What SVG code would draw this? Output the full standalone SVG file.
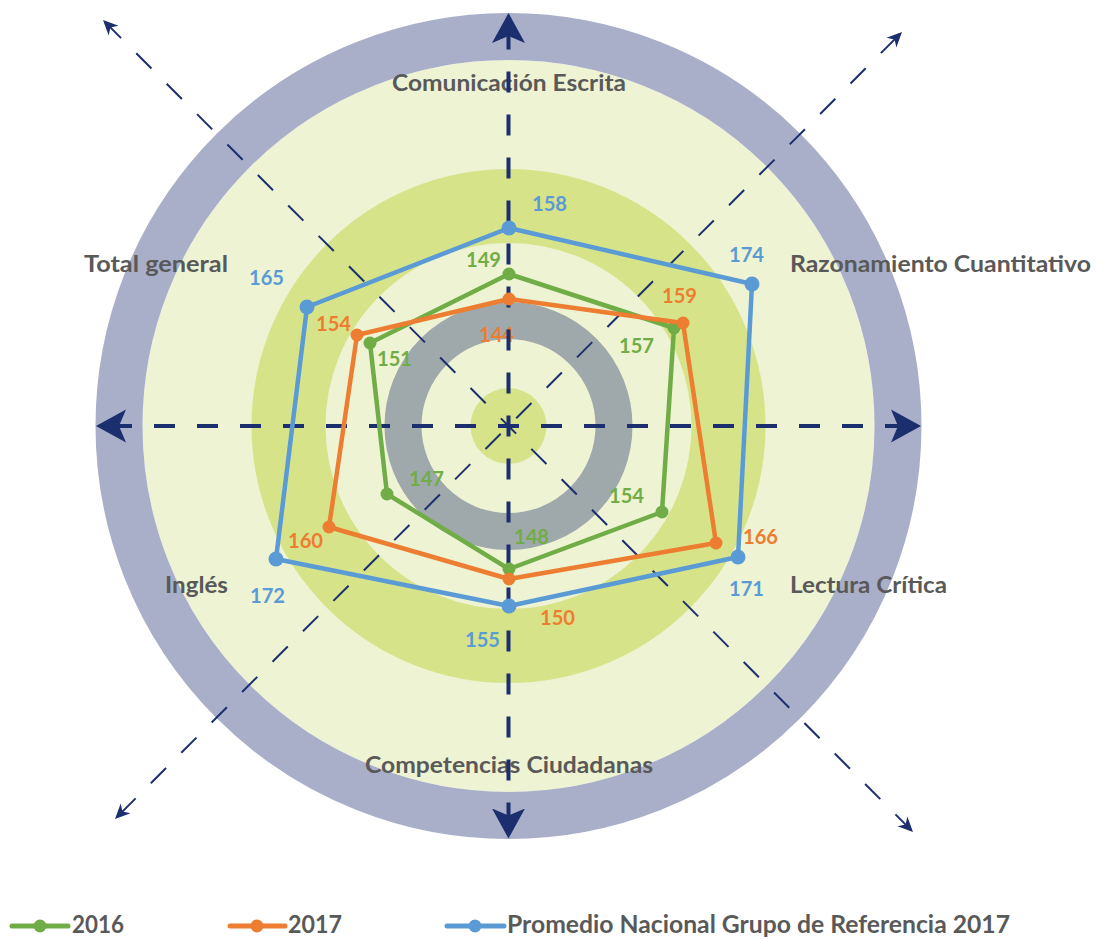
<svg xmlns="http://www.w3.org/2000/svg" width="1097" height="939" viewBox="0 0 1097 939">
<style>
.lbl{font-family:Lato,"Liberation Sans",sans-serif;font-weight:bold;font-size:23px;fill:#595959}
.num{font-family:Lato,"Liberation Sans",sans-serif;font-weight:bold;font-size:21px}
.leg{font-family:Lato,"Liberation Sans",sans-serif;font-weight:bold;font-size:24px;fill:#595959}
.ax{fill:none;stroke:#1B2F6E;stroke-width:4;stroke-dasharray:21 22;stroke-dashoffset:10.5;marker-end:url(#big)}
.dg{fill:none;stroke:#1B2F6E;stroke-width:2;stroke-dasharray:21.5 21.5;marker-end:url(#small)}
.ser{fill:none;stroke-width:4.5;stroke-linejoin:round}
.b{fill:#5B9BD5}.o{fill:#ED7D31}.g{fill:#70AD47}
</style>
<defs>
<marker id="big" markerUnits="userSpaceOnUse" markerWidth="32" markerHeight="34" viewBox="0 -17 32 34" refX="30" refY="0" orient="auto"><path d="M0,-16.5 L30,0 L0,16.5 L7,0 Z" fill="#1B2F6E"/></marker>
<marker id="small" markerUnits="userSpaceOnUse" markerWidth="16" markerHeight="16" viewBox="0 -8 16 16" refX="15" refY="0" orient="auto"><path d="M0,-7 L15,0 L0,7 L4.5,0 Z" fill="#1B2F6E"/></marker>
</defs>
<rect width="1097" height="939" fill="#FFFFFF"/>
<g id="background">
<circle cx="508.5" cy="426" r="366" fill="#EDF3D3"/>
<circle cx="508.5" cy="426" r="389.5" fill="none" stroke="#A9AFC8" stroke-width="47"/>
<circle cx="508.5" cy="426" r="220" fill="none" stroke="#D7E389" stroke-width="74"/>
<circle cx="508.5" cy="426" r="105.5" fill="none" stroke="#9FA9AB" stroke-width="37"/>
<circle cx="508.5" cy="426" r="38" fill="#D7E389"/>
</g>
<g id="axis-labels">
<text class="lbl" x="392" y="91" textLength="234" lengthAdjust="spacingAndGlyphs">Comunicación Escrita</text>
<text class="lbl" x="790" y="272" textLength="301" lengthAdjust="spacingAndGlyphs">Razonamiento Cuantitativo</text>
<text class="lbl" x="84" y="272" textLength="144" lengthAdjust="spacingAndGlyphs">Total general</text>
<text class="lbl" x="165" y="593" textLength="63" lengthAdjust="spacingAndGlyphs">Inglés</text>
<text class="lbl" x="790" y="593" textLength="157" lengthAdjust="spacingAndGlyphs">Lectura Crítica</text>
<text class="lbl" x="365" y="773" textLength="288" lengthAdjust="spacingAndGlyphs">Competencias Ciudadanas</text>
</g>
<g id="value-labels">
<text class="num b" x="532" y="211" textLength="35" lengthAdjust="spacingAndGlyphs">158</text>
<text class="num g" x="466" y="267" textLength="35" lengthAdjust="spacingAndGlyphs">149</text>
<text class="num o" x="479" y="342" textLength="35" lengthAdjust="spacingAndGlyphs">144</text>
<text class="num b" x="729" y="262" textLength="35" lengthAdjust="spacingAndGlyphs">174</text>
<text class="num o" x="662" y="303" textLength="35" lengthAdjust="spacingAndGlyphs">159</text>
<text class="num g" x="619" y="353" textLength="35" lengthAdjust="spacingAndGlyphs">157</text>
<text class="num b" x="249" y="285" textLength="35" lengthAdjust="spacingAndGlyphs">165</text>
<text class="num o" x="316" y="331" textLength="35" lengthAdjust="spacingAndGlyphs">154</text>
<text class="num g" x="377" y="366" textLength="35" lengthAdjust="spacingAndGlyphs">151</text>
<text class="num g" x="409" y="486" textLength="35" lengthAdjust="spacingAndGlyphs">147</text>
<text class="num o" x="288" y="548" textLength="35" lengthAdjust="spacingAndGlyphs">160</text>
<text class="num b" x="250" y="603" textLength="35" lengthAdjust="spacingAndGlyphs">172</text>
<text class="num b" x="465" y="647" textLength="35" lengthAdjust="spacingAndGlyphs">155</text>
<text class="num g" x="514" y="544" textLength="35" lengthAdjust="spacingAndGlyphs">148</text>
<text class="num o" x="540" y="625" textLength="35" lengthAdjust="spacingAndGlyphs">150</text>
<text class="num g" x="609" y="503" textLength="35" lengthAdjust="spacingAndGlyphs">154</text>
<text class="num o" x="743" y="544" textLength="35" lengthAdjust="spacingAndGlyphs">166</text>
<text class="num b" x="729" y="596" textLength="35" lengthAdjust="spacingAndGlyphs">171</text>
</g>
<g id="connectors">
<path class="ax" d="M508.5,426 L508.5,13"/>
<path class="ax" d="M508.5,426 L508.5,838.5"/>
<path class="ax" d="M508.5,426 L96,426"/>
<path class="ax" d="M508.5,426 L921,426"/>
<path class="dg" style="stroke-dashoffset:10.75" d="M508.5,426 L103,20"/>
<path class="dg" style="stroke-dashoffset:10.75" d="M508.5,426 L913,832"/>
<path class="dg" style="stroke-dashoffset:32" d="M508.5,426 L902,32"/>
<path class="dg" style="stroke-dashoffset:32" d="M508.5,426 L115,819"/>
</g>
<g id="series-2016">
<polygon class="ser" stroke="#70AD47" points="509,274 674,328 662,512 509,569 387,494 370,343"/>
<g class="g"><circle cx="509" cy="274" r="6.5"/><circle cx="674" cy="328" r="6.5"/><circle cx="662" cy="512" r="6.5"/><circle cx="509" cy="569" r="6.5"/><circle cx="387" cy="494" r="6.5"/><circle cx="370" cy="343" r="6.5"/></g>
</g>
<g id="series-2017">
<polygon class="ser" stroke="#ED7D31" points="509,299 683,323 716,543 509,579 329,527 357,335"/>
<g class="o"><circle cx="509" cy="299" r="6.5"/><circle cx="683" cy="323" r="6.5"/><circle cx="716" cy="543" r="6.5"/><circle cx="509" cy="579" r="6.5"/><circle cx="329" cy="527" r="6.5"/><circle cx="357" cy="335" r="6.5"/></g>
</g>
<g id="series-promedio">
<polygon class="ser" stroke="#5B9BD5" points="509,228 752,284 738,557 509,606 276,559 307,307"/>
<g class="b"><circle cx="509" cy="228" r="7.5"/><circle cx="752" cy="284" r="7.5"/><circle cx="738" cy="557" r="7.5"/><circle cx="509" cy="606" r="7.5"/><circle cx="276" cy="559" r="7.5"/><circle cx="307" cy="307" r="7.5"/></g>
</g>
<g id="legend">
<line x1="12" y1="926" x2="68" y2="926" stroke="#70AD47" stroke-width="5" stroke-linecap="round"/>
<circle class="g" cx="40" cy="926" r="6.5"/>
<text class="leg" x="72" y="933" textLength="52" lengthAdjust="spacingAndGlyphs">2016</text>
<line x1="230" y1="926" x2="285" y2="926" stroke="#ED7D31" stroke-width="5" stroke-linecap="round"/>
<circle class="o" cx="257" cy="926" r="6.5"/>
<text class="leg" x="288" y="933" textLength="54" lengthAdjust="spacingAndGlyphs">2017</text>
<line x1="447" y1="926" x2="504" y2="926" stroke="#5B9BD5" stroke-width="5" stroke-linecap="round"/>
<circle class="b" cx="475" cy="926" r="6.5"/>
<text class="leg" x="507" y="933" textLength="503" lengthAdjust="spacingAndGlyphs">Promedio Nacional Grupo de Referencia 2017</text>
</g>
</svg>
